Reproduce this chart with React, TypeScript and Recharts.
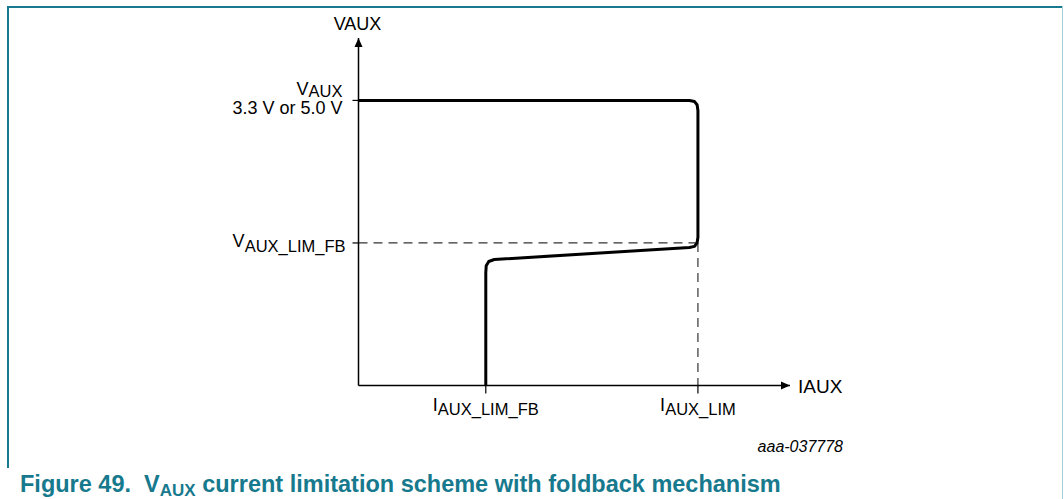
import { LineChart, Line, XAxis, YAxis, ReferenceLine, ReferenceDot } from "recharts"

// foldback curve (I in arbitrary units, V with VAUX = 10)
const curveI = [0, 7.8, 7.92, 7.98, 8, 8, 7.98, 7.92, 7.8, 3.2, 3.07, 3.01, 3, 3]
const curveV = [10, 10, 9.96, 9.85, 9.65, 5.2, 5.0, 4.88, 4.84, 4.42, 4.35, 4.2, 3.95, 0]

const vTicks = [5, 10]
const vTickMain = ["V", "V"]
const vTickSub = ["AUX_LIM_FB", "AUX"]
const vTickExtra = ["", "3.3 V or 5.0 V"]

const iTicks = [3, 8]
const iTickMain = ["I", "I"]
const iTickSub = ["AUX_LIM_FB", "AUX_LIM"]

const vLimFb = 5
const iLim = 8
const iMax = 10.17
const vMax = 12.19

const font = "'Liberation Sans', Arial, sans-serif"
const teal = "#17798d"

const data = curveI.map((i, k) => ({ i, v: curveV[k] }))

function VTick({ x, y, payload }: any) {
    const k = vTicks.indexOf(payload.value)
    const top = k === 1
    return (
        <g fontFamily={font} fill="#000">
            <text x={x + (top ? 0 : 3)} y={y + (top ? -5 : 4)} textAnchor="end">
                <tspan fontSize={18}>{vTickMain[k]}</tspan>
                <tspan fontSize={16.5} dy={top ? 1.5 : 5}>{vTickSub[k]}</tspan>
            </text>
            {vTickExtra[k] && (
                <text x={x} y={y + 13.5} textAnchor="end" fontSize={18}>
                    {vTickExtra[k]}
                </text>
            )}
        </g>
    )
}

function ITick({ x, y, payload }: any) {
    const k = iTicks.indexOf(payload.value)
    return (
        <text x={x} y={y + 17.5} textAnchor="middle" fontFamily={font} fill="#000">
            <tspan fontSize={18}>{iTickMain[k]}</tspan>
            <tspan fontSize={16.5} dy={4}>{iTickSub[k]}</tspan>
        </text>
    )
}

function UpArrow({ cx, cy }: any) {
    return (
        <g>
            <polygon points={`${cx},${cy} ${cx - 4},${cy + 9} ${cx + 4},${cy + 9}`} fill="#000" />
            <text x={cx - 1} y={cy - 8} textAnchor="middle" fontSize={18} fontFamily={font} fill="#000">
                VAUX
            </text>
        </g>
    )
}

function RightArrow({ cx, cy }: any) {
    return (
        <g>
            <polygon points={`${cx},${cy} ${cx - 9},${cy - 4} ${cx - 9},${cy + 4}`} fill="#000" />
            <text x={cx + 8} y={cy + 7.5} fontSize={19} fontFamily={font} fill="#000">
                IAUX
            </text>
        </g>
    )
}

export default function App() {
    return (
        <div style={{ position: "absolute", left: 0, top: 0, width: 1064, height: 499, background: "#fff" }}>
            <div
                style={{
                    position: "absolute",
                    left: 7,
                    top: 6,
                    width: 1056,
                    height: 462,
                    borderTop: `2px solid ${teal}`,
                    borderLeft: `2px solid ${teal}`,
                    boxSizing: "border-box",
                }}
            />
            <div style={{ position: "absolute", left: 1061.5, top: 6, width: 0, height: 493, borderRight: "1.5px solid #a6cfd9" }} />
            <div style={{ position: "absolute", left: 0, top: 0 }}>
                <LineChart width={1064} height={470} data={data} margin={{ top: 38, right: 274, left: 258.5, bottom: 44.5 }}>
                    <XAxis
                        dataKey="i"
                        type="number"
                        domain={[0, iMax]}
                        ticks={iTicks}
                        allowDataOverflow
                        height={40}
                        tickSize={8}
                        tickMargin={0}
                        axisLine={{ stroke: "#000", strokeWidth: 1.5 }}
                        tickLine={{ stroke: "#000", strokeWidth: 1.2 }}
                        tick={<ITick />}
                    />
                    <YAxis
                        type="number"
                        domain={[0, vMax]}
                        ticks={vTicks}
                        allowDataOverflow
                        width={100}
                        tickSize={6}
                        tickMargin={10}
                        axisLine={{ stroke: "#000", strokeWidth: 1.5 }}
                        tickLine={{ stroke: "#000", strokeWidth: 1.2 }}
                        tick={<VTick />}
                    />
                    <ReferenceLine
                        segment={[{ x: 0, y: vLimFb }, { x: iLim, y: vLimFb }]}
                        stroke="#333"
                        strokeWidth={1.2}
                        strokeDasharray="9 6"
                        ifOverflow="visible"
                    />
                    <ReferenceLine
                        segment={[{ x: iLim, y: vLimFb }, { x: iLim, y: 0 }]}
                        stroke="#333"
                        strokeWidth={1.2}
                        strokeDasharray="9 6"
                        ifOverflow="visible"
                    />
                    <Line
                        dataKey="v"
                        type="linear"
                        stroke="#000"
                        strokeWidth={3}
                        strokeLinejoin="round"
                        dot={false}
                        activeDot={false}
                        isAnimationActive={false}
                    />
                    <ReferenceDot x={0} y={vMax} r={0} ifOverflow="visible" shape={(p: any) => <UpArrow {...p} />} />
                    <ReferenceDot x={iMax} y={0} r={0} ifOverflow="visible" shape={(p: any) => <RightArrow {...p} />} />
                </LineChart>
            </div>
            <div
                style={{
                    position: "absolute",
                    right: 221,
                    top: 438.5,
                    fontSize: 16,
                    fontStyle: "italic",
                    fontFamily: font,
                    lineHeight: 1,
                    color: "#000",
                }}
            >
                aaa-037778
            </div>
            <div
                style={{
                    position: "absolute",
                    left: 20,
                    top: 473,
                    fontSize: 23.5,
                    fontWeight: "bold",
                    fontFamily: font,
                    lineHeight: 1,
                    color: teal,
                    whiteSpace: "nowrap",
                }}
            >
                Figure 49.&nbsp; V<span style={{ fontSize: 17, position: "relative", top: 4 }}>AUX</span> current limitation scheme with foldback mechanism
            </div>
        </div>
    )
}
